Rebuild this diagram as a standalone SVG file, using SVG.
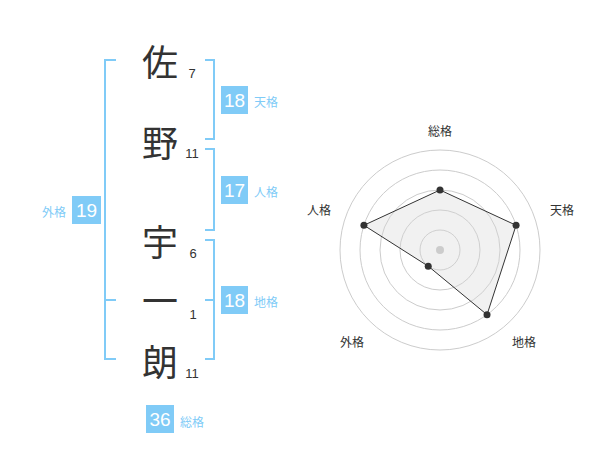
<svg xmlns="http://www.w3.org/2000/svg" width="600" height="470" viewBox="0 0 600 470">
<style>
.kanji{font-family:"Noto Sans CJK JP","Noto Sans CJK SC",sans-serif;font-size:36px;fill:#333;text-anchor:middle;dominant-baseline:central}
.num{font-family:"Liberation Sans",Arial,sans-serif;font-size:13px;fill:#333;text-anchor:middle;dominant-baseline:central}
.box{fill:#80cbf7}
.boxt{font-family:"Liberation Sans",Arial,sans-serif;font-size:19px;fill:#fff;text-anchor:middle;dominant-baseline:central}
.lab{font-family:"Noto Sans CJK JP","Noto Sans CJK SC",sans-serif;font-size:12px;fill:#80cbf7;dominant-baseline:central}
.br{fill:none;stroke:#80cbf7;stroke-width:2}
.ring{fill:none;stroke:#cccccc;stroke-width:1}
.rlab{font-family:"Noto Sans CJK JP","Noto Sans CJK SC",sans-serif;font-size:12px;fill:#333;text-anchor:middle;dominant-baseline:central}
.dot{fill:#333}
</style>
<g id="connectors">
<path class="br" d="M116,60 H105 V359 H116 M105,300 H116"/>
<path class="br" d="M205,60 H214 V139 H205"/>
<path class="br" d="M205,149 H214 V230 H205"/>
<path class="br" d="M205,240 H214 V359 H205 M205,300 H214"/>
</g>
<g id="name">
<text class="kanji" x="160" y="60">佐</text>
<text class="num" x="192" y="73">7</text>
<text class="kanji" x="160" y="141">野</text>
<text class="num" x="192" y="153">11</text>
<text class="kanji" x="160" y="240">宇</text>
<text class="num" x="193" y="253">6</text>
<text class="kanji" x="160" y="299">一</text>
<text class="num" x="193" y="314">1</text>
<text class="kanji" x="160" y="360">朗</text>
<text class="num" x="192" y="373">11</text>
</g>
<g id="tenkaku">
<rect class="box" x="221" y="86" width="27" height="28"/>
<text class="boxt" x="234.5" y="100.5">18</text>
<text class="lab" x="254" y="101">天格</text>
</g>
<g id="jinkaku">
<rect class="box" x="221" y="176" width="27" height="28"/>
<text class="boxt" x="234.5" y="190.5">17</text>
<text class="lab" x="254" y="191">人格</text>
</g>
<g id="chikaku">
<rect class="box" x="221" y="286" width="27" height="28"/>
<text class="boxt" x="234.5" y="300.5">18</text>
<text class="lab" x="254" y="301">地格</text>
</g>
<g id="gaikaku">
<rect class="box" x="72" y="196" width="29" height="28"/>
<text class="boxt" x="86.5" y="210.5">19</text>
<text class="lab" x="66" y="211" text-anchor="end">外格</text>
</g>
<g id="soukaku">
<rect class="box" x="146" y="405" width="28" height="28"/>
<text class="boxt" x="160" y="419.5">36</text>
<text class="lab" x="180" y="421">総格</text>
</g>
<g id="radar">
<circle class="ring" cx="440" cy="250" r="20"/>
<circle class="ring" cx="440" cy="250" r="40"/>
<circle class="ring" cx="440" cy="250" r="60"/>
<circle class="ring" cx="440" cy="250" r="80"/>
<circle class="ring" cx="440" cy="250" r="100"/>
<polygon points="440,190 516.08,225.28 487.02,314.72 428.24,266.18 363.92,225.28" fill="#d8d8d8" fill-opacity="0.35" stroke="#333" stroke-width="1"/>
<circle cx="440" cy="250" r="4" fill="#cccccc"/>
<circle class="dot" cx="440" cy="190" r="3.5"/>
<circle class="dot" cx="516.08" cy="225.28" r="3.5"/>
<circle class="dot" cx="487.02" cy="314.72" r="3.5"/>
<circle class="dot" cx="428.24" cy="266.18" r="3.5"/>
<circle class="dot" cx="363.92" cy="225.28" r="3.5"/>
<text class="rlab" x="440" y="130">総格</text>
<text class="rlab" x="562" y="209">天格</text>
<text class="rlab" x="524" y="341">地格</text>
<text class="rlab" x="352" y="341">外格</text>
<text class="rlab" x="319" y="209">人格</text>
</g>
</svg>
